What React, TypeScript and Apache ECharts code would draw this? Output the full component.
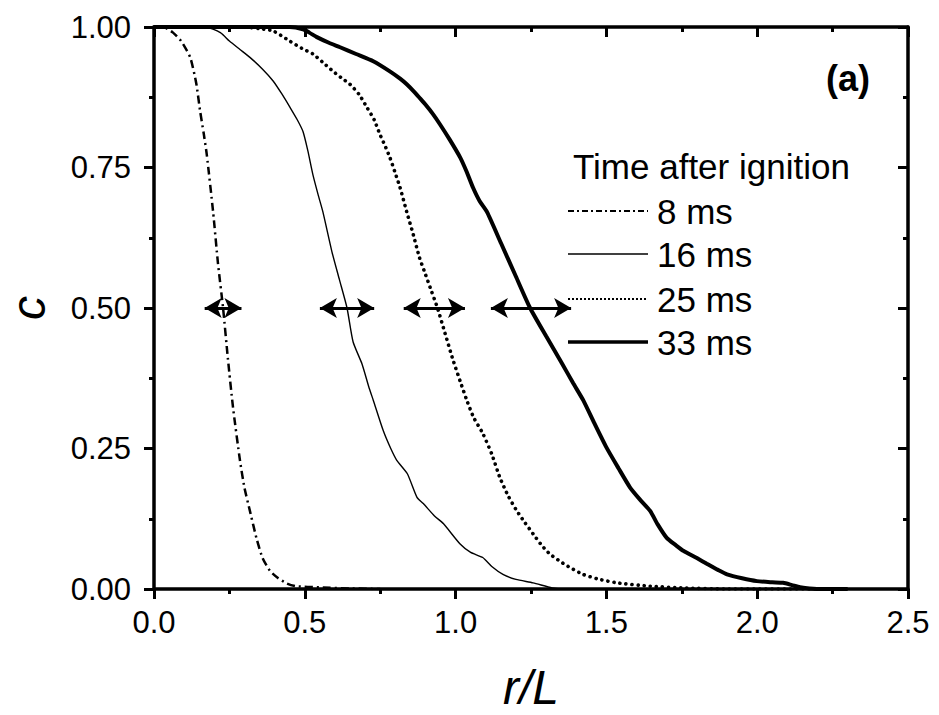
import React, { useEffect, useRef } from 'react';
import * as echarts from 'echarts';

// r/L , c pairs
const curve8ms: [number, number][] = [
  [0.0, 1.0], [0.03, 1.0], [0.063, 0.99], [0.09, 0.975], [0.12, 0.946], [0.14, 0.9],
  [0.153, 0.85], [0.165, 0.81], [0.175, 0.773], [0.196, 0.671], [0.212, 0.58],
  [0.229, 0.5], [0.245, 0.41], [0.262, 0.323], [0.285, 0.229], [0.3, 0.18],
  [0.318, 0.139], [0.34, 0.09], [0.36, 0.055], [0.385, 0.032], [0.41, 0.02],
  [0.44, 0.01], [0.47, 0.005], [0.55, 0.003], [0.65, 0.001], [0.75, 0.0],
];

const curve16ms: [number, number][] = [
  [0.0, 1.0], [0.17, 1.0], [0.22, 0.99], [0.25, 0.975], [0.285, 0.96], [0.318, 0.946],
  [0.36, 0.925], [0.395, 0.904], [0.425, 0.88], [0.451, 0.857], [0.475, 0.835],
  [0.494, 0.814], [0.51, 0.78], [0.527, 0.737], [0.545, 0.7], [0.56, 0.671],
  [0.59, 0.6], [0.615, 0.55], [0.64, 0.5], [0.66, 0.44], [0.69, 0.4], [0.712, 0.36],
  [0.727, 0.336], [0.76, 0.282], [0.785, 0.25], [0.805, 0.229], [0.84, 0.205],
  [0.872, 0.163], [0.893, 0.152], [0.93, 0.13], [0.96, 0.116], [1.015, 0.08],
  [1.05, 0.065], [1.09, 0.056], [1.12, 0.04], [1.157, 0.026], [1.2, 0.017],
  [1.257, 0.011], [1.32, 0.002], [1.36, 0.0], [1.6, 0.0],
];

const curve25ms: [number, number][] = [
  [0.0, 1.0], [0.3, 1.0], [0.35, 0.997], [0.395, 0.993], [0.45, 0.975], [0.49, 0.962],
  [0.527, 0.952], [0.56, 0.937], [0.594, 0.921], [0.62, 0.91], [0.65, 0.898],
  [0.68, 0.88], [0.706, 0.857], [0.73, 0.835], [0.749, 0.809], [0.765, 0.79],
  [0.782, 0.768], [0.8, 0.74], [0.816, 0.714], [0.838, 0.671], [0.86, 0.63],
  [0.88, 0.59], [0.9, 0.56], [0.92, 0.53], [0.94, 0.5], [0.965, 0.455], [0.99, 0.41],
  [1.015, 0.37], [1.037, 0.336], [1.06, 0.305], [1.09, 0.277], [1.12, 0.24],
  [1.147, 0.198], [1.175, 0.165], [1.203, 0.139], [1.23, 0.118], [1.257, 0.098],
  [1.285, 0.078], [1.313, 0.062], [1.35, 0.048], [1.38, 0.038], [1.423, 0.026],
  [1.47, 0.018], [1.535, 0.011], [1.645, 0.005], [1.755, 0.002], [1.9, 0.0], [2.3, 0.0],
];

const curve33ms: [number, number][] = [
  [0.0, 1.0], [0.45, 1.0], [0.494, 0.996], [0.515, 0.99], [0.54, 0.982], [0.58, 0.972],
  [0.617, 0.964], [0.67, 0.952], [0.727, 0.939], [0.782, 0.921], [0.816, 0.908],
  [0.838, 0.898], [0.862, 0.885], [0.882, 0.873], [0.9, 0.862], [0.925, 0.845],
  [0.948, 0.827], [0.98, 0.8], [1.015, 0.768], [1.037, 0.742], [1.058, 0.714],
  [1.08, 0.69], [1.104, 0.671], [1.15, 0.616], [1.2, 0.556], [1.247, 0.5],
  [1.3, 0.45], [1.35, 0.404], [1.39, 0.366], [1.423, 0.336], [1.46, 0.295],
  [1.5, 0.252], [1.54, 0.215], [1.578, 0.181], [1.61, 0.16], [1.645, 0.139],
  [1.67, 0.115], [1.7, 0.091], [1.73, 0.078], [1.755, 0.068], [1.8, 0.055],
  [1.833, 0.045], [1.87, 0.034], [1.9, 0.026], [1.95, 0.019], [1.999, 0.014],
  [2.05, 0.012], [2.086, 0.011], [2.115, 0.007], [2.142, 0.003], [2.198, 0.0], [2.3, 0.0],
];

const seriesNames = ['8 ms', '16 ms', '25 ms', '33 ms'];
const legendTitle = 'Time after ignition';

// double-headed arrows at c = 0.5 (r/L start, end)
const arrowLevel = 0.5;
const arrowSpans: [number, number][] = [
  [0.168, 0.29], [0.55, 0.73], [0.828, 1.031], [1.117, 1.383],
];

const FONT = '"Liberation Sans", Arial, Helvetica, sans-serif';

export default function App() {
  const ref = useRef<HTMLDivElement>(null);

  useEffect(() => {
    document.body.style.margin = '0';
    const chart = echarts.init(ref.current!, null, { renderer: 'svg' });

    const axisLine = { show: true, onZero: false, lineStyle: { color: '#000', width: 3.5 } };
    const tickStyle = { color: '#000', width: 3 };

    const lineStyles = [
      { color: '#000', width: 2.5, type: [8, 4, 2, 4] },
      { color: '#000', width: 1.4, type: 'solid' },
      { color: '#000', width: 3.6, type: [0.1, 6], cap: 'round' },
      { color: '#000', width: 4, type: 'solid' },
    ];
    const curves = [curve8ms, curve16ms, curve25ms, curve33ms];

    const series: any[] = curves.map((d, i) => ({
      name: seriesNames[i],
      type: 'line',
      xAxisIndex: 0,
      yAxisIndex: 0,
      data: d,
      showSymbol: false,
      symbol: 'none',
      smooth: 0.2,
      lineStyle: lineStyles[i],
      silent: true,
      emphasis: { disabled: true },
    }));

    series[0].markLine = {
      silent: true,
      symbol: ['arrow', 'arrow'],
      symbolSize: [15, 17],
      label: { show: false },
      emphasis: { disabled: true },
      lineStyle: { color: '#000', width: 3, type: 'solid' },
      data: arrowSpans.map(([a, b]) => [
        { coord: [a, arrowLevel] },
        { coord: [b, arrowLevel] },
      ]),
    };

    // legend drawn as graphic (line sample + label)
    const legendX1 = 568;
    const legendX2 = 648;
    const legendTextX = 657;
    const legendRows = [211, 254, 299, 342];
    const legendDash: any[] = [[6, 3, 2, 3], null, [2, 2], null];
    const legendWidths = [2, 1.4, 2, 3.5];
    const elements: any[] = [
      {
        type: 'text',
        x: 573,
        y: 166,
        style: { text: legendTitle, font: `35px ${FONT}`, fill: '#000', verticalAlign: 'middle', align: 'left' },
      },
      {
        type: 'text',
        x: 848,
        y: 78,
        style: { text: '(a)', font: `bold 36px ${FONT}`, fill: '#000', verticalAlign: 'middle', align: 'center' },
      },
    ];
    seriesNames.forEach((n, i) => {
      elements.push({
        type: 'line',
        shape: { x1: legendX1, y1: legendRows[i], x2: legendX2, y2: legendRows[i] },
        style: {
          stroke: '#000',
          lineWidth: legendWidths[i],
          lineDash: legendDash[i] || undefined,
        },
      });
      elements.push({
        type: 'text',
        x: legendTextX,
        y: legendRows[i],
        style: { text: n, font: `35px ${FONT}`, fill: '#000', verticalAlign: 'middle', align: 'left' },
      });
    });

    const option: any = {
      animation: false,
      backgroundColor: '#fff',
      grid: { left: 154, right: 31, top: 27, bottom: 126, containLabel: false, outerBoundsMode: 'none' },
      xAxis: [
        {
          type: 'value',
          position: 'bottom',
          min: 0,
          max: 2.5,
          interval: 0.5,
          axisLine,
          axisTick: { show: true, length: 10, lineStyle: tickStyle },
          minorTick: { show: true, splitNumber: 2, length: 5, lineStyle: tickStyle },
          splitLine: { show: false },
          minorSplitLine: { show: false },
          axisLabel: {
            color: '#000',
            fontSize: 31,
            fontFamily: FONT,
            margin: 18,
            showMinLabel: true,
            showMaxLabel: true,
            formatter: (v: number) => v.toFixed(1),
          },
          name: 'r/L',
          nameLocation: 'middle',
          nameGap: 74,
          nameMoveOverlap: false,
          nameTextStyle: { color: '#000', fontSize: 48, fontStyle: 'italic', fontFamily: FONT },
        },
        {
          type: 'value',
          position: 'top',
          min: 0,
          max: 2.5,
          interval: 0.5,
          axisLine,
          axisTick: { show: true, inside: true, length: 10, lineStyle: tickStyle },
          minorTick: { show: true, splitNumber: 2, length: 5, lineStyle: tickStyle },
          splitLine: { show: false },
          axisLabel: { show: false },
        },
      ],
      yAxis: [
        {
          type: 'value',
          position: 'left',
          min: 0,
          max: 1,
          interval: 0.25,
          axisLine,
          axisTick: { show: true, length: 10, lineStyle: tickStyle },
          minorTick: { show: true, splitNumber: 2, length: 5, lineStyle: tickStyle },
          splitLine: { show: false },
          minorSplitLine: { show: false },
          axisLabel: {
            color: '#000',
            fontSize: 31,
            fontFamily: FONT,
            margin: 23,
            showMinLabel: true,
            showMaxLabel: true,
            formatter: (v: number) => v.toFixed(2),
          },
          name: 'c',
          nameLocation: 'middle',
          nameRotate: 90,
          nameGap: 102,
          nameMoveOverlap: false,
          nameTextStyle: { color: '#000', fontSize: 48, fontStyle: 'italic', fontFamily: FONT },
        },
        {
          type: 'value',
          position: 'right',
          min: 0,
          max: 1,
          interval: 0.25,
          axisLine,
          axisTick: { show: true, inside: true, length: 10, lineStyle: tickStyle },
          minorTick: { show: true, splitNumber: 2, length: 5, lineStyle: tickStyle },
          splitLine: { show: false },
          axisLabel: { show: false },
        },
      ],
      series,
      graphic: { elements },
    };

    chart.setOption(option);
    return () => chart.dispose();
  }, []);

  return <div ref={ref} style={{ width: 939, height: 715 }} />;
}
